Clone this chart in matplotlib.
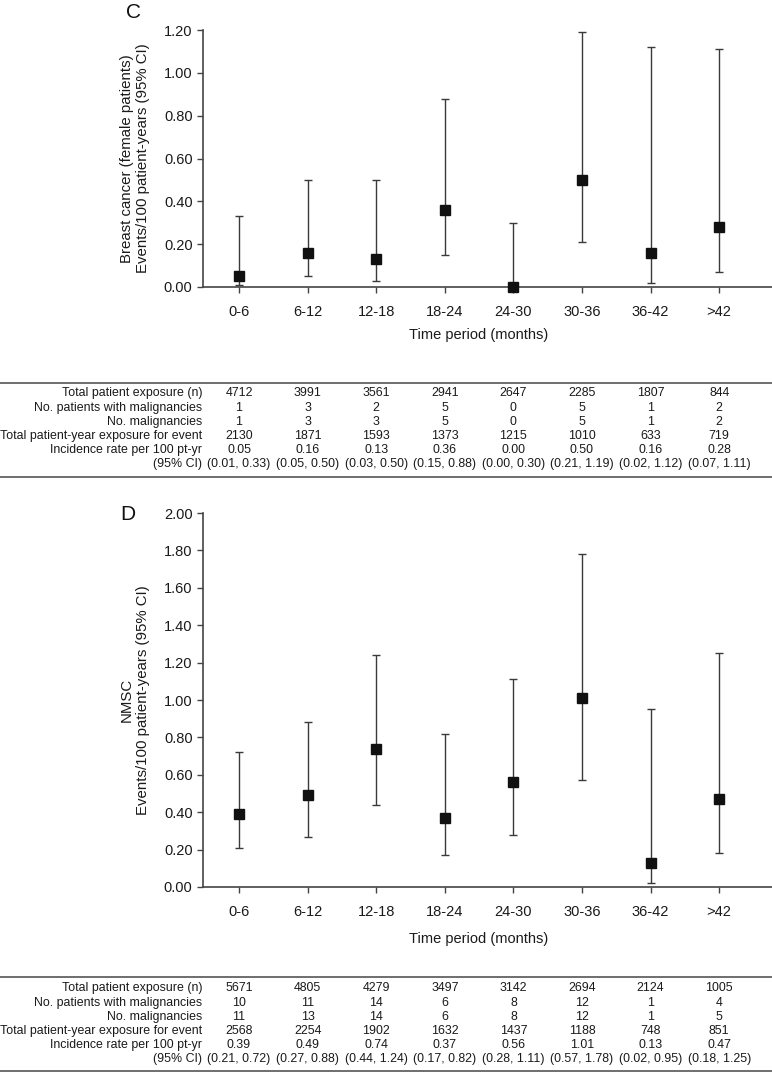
import numpy as np
import matplotlib
matplotlib.use("Agg")
import matplotlib.pyplot as plt
from matplotlib.lines import Line2D
from matplotlib.transforms import blended_transform_factory

plt.rcParams['font.family'] = ['Liberation Sans', 'DejaVu Sans']

# ---- data ----
periods = ["0-6", "6-12", "12-18", "18-24", "24-30", "30-36", "36-42", ">42"]

# panel C : breast cancer (female patients)
c_rate = [0.05, 0.16, 0.13, 0.36, 0.00, 0.50, 0.16, 0.28]
c_low = [0.01, 0.05, 0.03, 0.15, 0.00, 0.21, 0.02, 0.07]
c_high = [0.33, 0.50, 0.50, 0.88, 0.30, 1.19, 1.12, 1.11]
c_exposure = [4712, 3991, 3561, 2941, 2647, 2285, 1807, 844]
c_patients = [1, 3, 2, 5, 0, 5, 1, 2]
c_malig = [1, 3, 3, 5, 0, 5, 1, 2]
c_pyears = [2130, 1871, 1593, 1373, 1215, 1010, 633, 719]

# panel D : NMSC
d_rate = [0.39, 0.49, 0.74, 0.37, 0.56, 1.01, 0.13, 0.47]
d_low = [0.21, 0.27, 0.44, 0.17, 0.28, 0.57, 0.02, 0.18]
d_high = [0.72, 0.88, 1.24, 0.82, 1.11, 1.78, 0.95, 1.25]
d_exposure = [5671, 4805, 4279, 3497, 3142, 2694, 2124, 1005]
d_patients = [10, 11, 14, 6, 8, 12, 1, 4]
d_malig = [11, 13, 14, 6, 8, 12, 1, 5]
d_pyears = [2568, 2254, 1902, 1632, 1437, 1188, 748, 851]

row_labels = ["Total patient exposure (n)", "No. patients with malignancies",
              "No. malignancies", "Total patient-year exposure for event",
              "Incidence rate per 100 pt-yr", "(95% CI)"]

W, H = 772, 1073
fig = plt.figure(figsize=(W / 100, H / 100), dpi=100)


def fx(px):
    return px / W


def fy(py):
    return 1 - py / H


def draw_panel(top, bottom, letter, letter_xy, ylabel, ymax, rate, low, high,
               exposure, patients, malig, pyears, xlabel_y, tab_top, rows_y, tab_bot):
    ax = fig.add_axes([fx(203), fy(bottom), 1 - fx(203), fy(top) - fy(bottom)])
    x = np.arange(1, len(periods) + 1)
    rate = np.array(rate)
    err = [rate - np.array(low), np.array(high) - rate]
    ax.errorbar(x, rate, yerr=err, fmt='none', ecolor='#3a3a3a', elinewidth=1.0,
                capsize=3, capthick=1.0, clip_on=False, zorder=3)
    ax.plot(x, rate, 's', color='#111111', markersize=6.8, clip_on=False, zorder=4)
    ax.set_xlim(0.475, 8.77)
    ax.set_ylim(0, ymax)
    yt = np.arange(0, ymax + 0.001, 0.2)
    ax.set_yticks(yt)
    ax.set_yticklabels(["%.2f" % v for v in yt])
    ax.set_xticks(x)
    ax.set_xticklabels(periods)
    for s in ['top', 'right']:
        ax.spines[s].set_visible(False)
    for s in ['left', 'bottom']:
        ax.spines[s].set_color('#444444')
        ax.spines[s].set_linewidth(1.2)
    ax.tick_params(axis='both', direction='out', length=4, width=1, color='#444444',
                   labelsize=10.5, labelcolor='#1a1a1a')
    ax.tick_params(axis='x', pad=9)
    ax.set_ylabel(ylabel, fontsize=10.8, color='#1a1a1a', linespacing=1.2, labelpad=10)
    trx = blended_transform_factory(ax.transData, fig.transFigure)
    ax.text(4.5, fy(xlabel_y), "Time period (months)", transform=trx, ha='center',
            va='center', fontsize=10.5, color='#1a1a1a')
    fig.text(fx(letter_xy[0]), fy(letter_xy[1]), letter, fontsize=15, ha='left',
             va='center', color='#111111')

    # table under the panel
    for ly in (tab_top, tab_bot):
        fig.add_artist(Line2D([0, 1], [fy(ly), fy(ly)], transform=fig.transFigure,
                              color='#555555', lw=1.2))
    cols = [[str(v) for v in exposure], [str(v) for v in patients],
            [str(v) for v in malig], [str(v) for v in pyears],
            ["%.2f" % v for v in rate],
            ["(%.2f, %.2f)" % (a, b) for a, b in zip(low, high)]]
    for r, lab in enumerate(row_labels):
        fig.text(fx(202), fy(rows_y[r]), lab, ha='right', va='center', fontsize=8.9,
                 color='#1a1a1a')
        for i, val in enumerate(cols[r]):
            ax.text(x[i], fy(rows_y[r]), val, transform=trx, ha='center', va='center',
                    fontsize=8.9, color='#1a1a1a')
    return ax


draw_panel(30, 287, "C", (126, 12),
           "Breast cancer (female patients)\nEvents/100 patient-years (95% CI)", 1.2,
           c_rate, c_low, c_high, c_exposure, c_patients, c_malig, c_pyears,
           335, 383, [393, 408, 422, 436, 450, 464], 477)

draw_panel(513, 887, "D", (120, 515),
           "NMSC\nEvents/100 patient-years (95% CI)", 2.0,
           d_rate, d_low, d_high, d_exposure, d_patients, d_malig, d_pyears,
           939, 977, [988, 1003, 1017, 1031, 1045, 1059], 1071)

fig.savefig("out.png", dpi=100)
